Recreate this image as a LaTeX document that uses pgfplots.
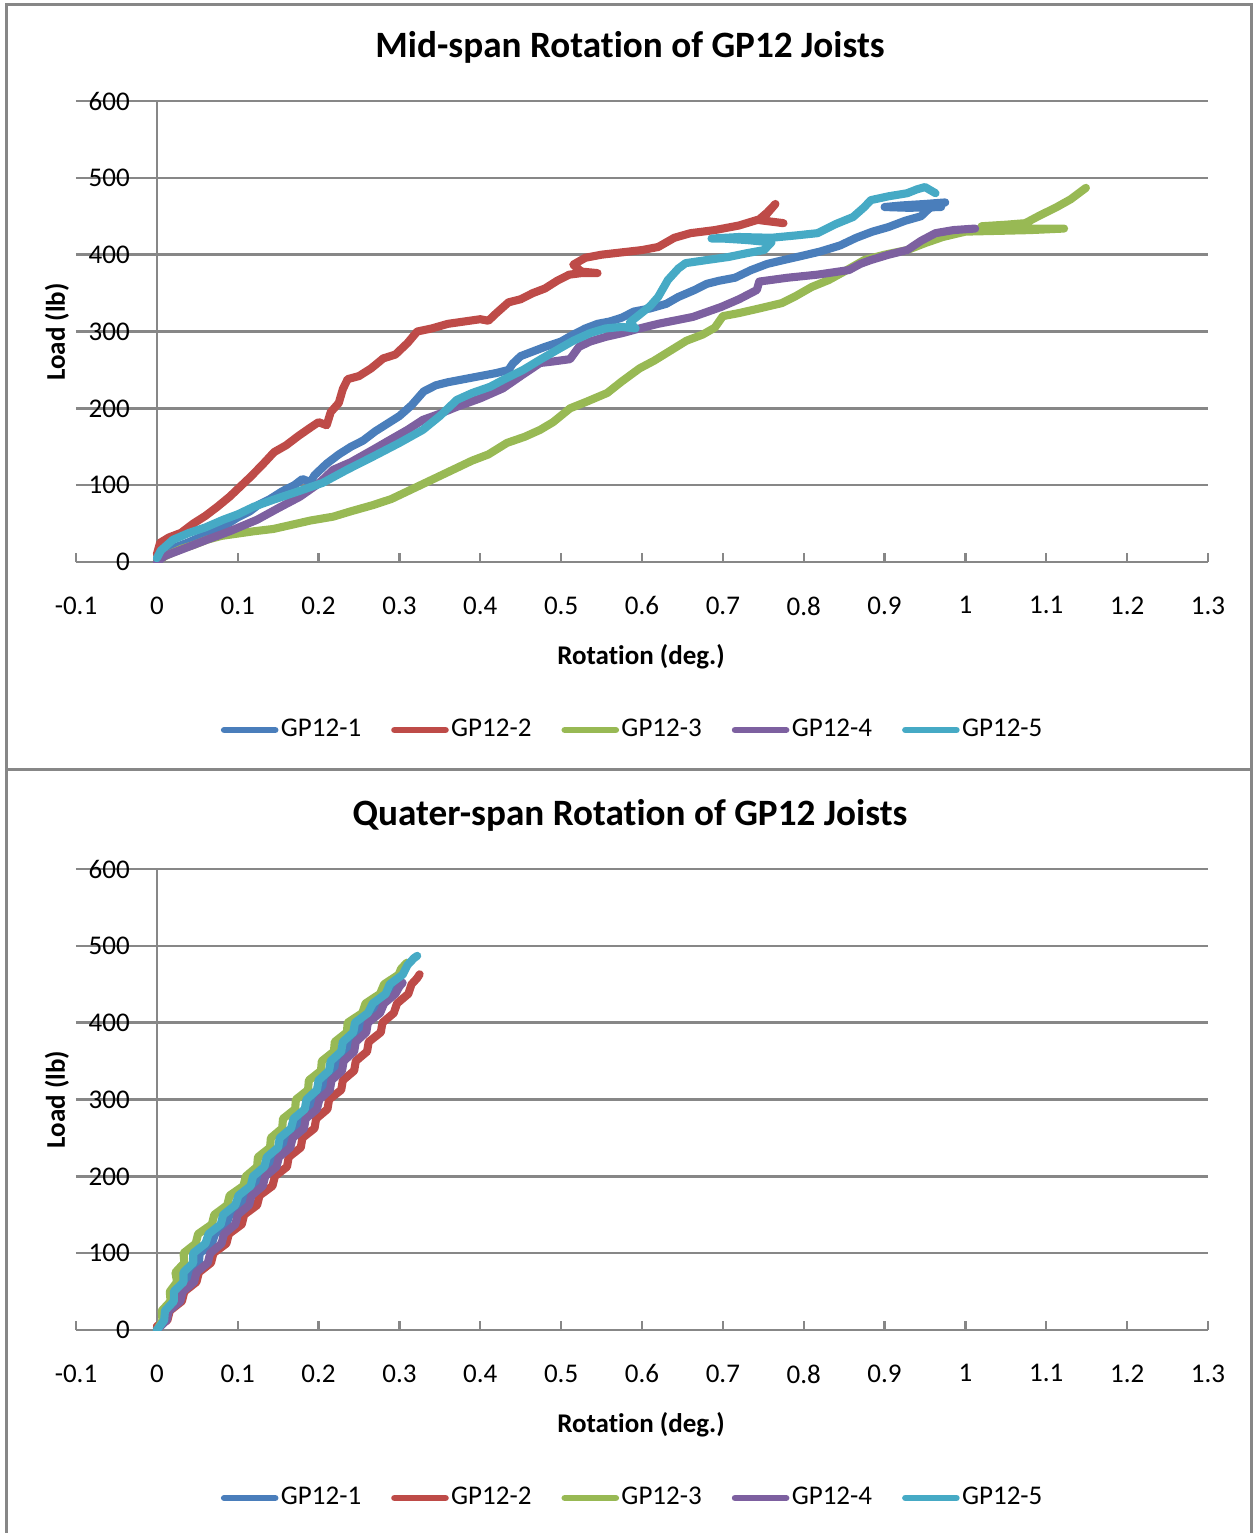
\documentclass[border=0pt]{standalone}
\usepackage{fontspec}
\setmainfont[Ligatures=NoCommon]{Carlito}
\usepackage{pgfplots}
\pgfplotsset{compat=1.18}

\definecolor{gpA}{HTML}{4A7EBB}
\definecolor{gpB}{HTML}{BE4B48}
\definecolor{gpC}{HTML}{98B954}
\definecolor{gpD}{HTML}{7D60A0}
\definecolor{gpE}{HTML}{46AAC5}
\definecolor{rule}{HTML}{878787}

\pgfplotsset{
  joist/.style={
    scale only axis, width=377.333pt, height=153.667pt,
    xmin=-0.1, xmax=1.3, ymin=0, ymax=600,
    axis x line=middle, axis y line=middle,
    axis line style={rule, line width=0.8pt, -},
    xtick={-0.1,0,0.1,0.2,0.3,0.4,0.5,0.6,0.7,0.8,0.9,1,1.1,1.2,1.3},
    xticklabels={-0.1,0,0.1,0.2,0.3,0.4,0.5,0.6,0.7,0.8,0.9,1,1.1,1.2,1.3},
    ytick={0,100,200,300,400,500,600},
    hide obscured x ticks=false, hide obscured y ticks=false,
    ymajorgrids, grid style={rule, line width=0.8pt},
    xtick align=inside, major tick length=3pt,
    xtick style={rule, line width=0.8pt}, ytick style={draw=none},
    tick label style={font=\fontsize{9}{10}\selectfont},
    /pgf/number format/assume math mode=true,
    xticklabel style={yshift=-8pt},
    yticklabel style={xshift=-4pt},
    legend columns=5,
    legend style={at={(0.4935,-0.3644)}, anchor=center, draw=none, fill=none,
      font=\fontsize{9}{10}\selectfont,
      /tikz/every odd column/.append style={column sep=-1.2pt},
      /tikz/every even column/.append style={column sep=8pt}},
    legend image code/.code={\draw[#1, line width=2.2pt, line cap=round] (0pt,0pt) -- (17pt,0pt);},
    every axis plot/.append style={line width=2.7pt, line join=round, line cap=round, mark=none},
  }
}

\begin{document}
\begin{tikzpicture}
\useasboundingbox (0,0) rectangle (418.333pt,-511pt);
\draw[rule, line width=1pt] (2pt,-1.4pt) rectangle (417.3pt,-256.5pt);
\draw[rule, line width=1pt] (2pt,-256.5pt) rectangle (417.3pt,-520pt);

% ---------- mid-span rotation ----------
\begin{axis}[joist, at={(25.333pt,-187.333pt)}, anchor=south west]
\addplot[gpA] coordinates {
(0,0) (0.004,8) (0.012,14) (0.025,20) (0.04,26) (0.055,33) (0.07,42) (0.085,48)
(0.10,58) (0.115,66) (0.125,74) (0.14,82) (0.155,92) (0.17,100) (0.18,108) (0.19,104)
(0.195,113) (0.21,128) (0.225,140) (0.24,150) (0.255,158) (0.27,170) (0.285,180)
(0.30,190) (0.315,204) (0.33,222) (0.345,230) (0.36,234) (0.38,238) (0.40,242)
(0.42,246) (0.435,250) (0.44,258) (0.45,268) (0.465,274) (0.48,280) (0.50,287)
(0.515,296) (0.53,304) (0.545,310) (0.56,313) (0.575,318) (0.59,326) (0.61,330)
(0.63,336) (0.645,345) (0.665,354) (0.68,362) (0.695,366) (0.715,370) (0.735,380)
(0.755,388) (0.775,393) (0.80,399) (0.82,404) (0.845,412) (0.865,422) (0.885,430)
(0.905,436) (0.925,444) (0.945,450) (0.955,460) (0.965,465) (0.975,468) (0.95,466)
(0.92,464) (0.90,462) (0.93,461) (0.97,462)
};
\addplot[gpB] coordinates {
(0,10) (0.004,25) (0.015,32) (0.03,38) (0.045,50) (0.06,60) (0.075,72) (0.09,85)
(0.10,95) (0.115,110) (0.13,126) (0.145,143) (0.16,152) (0.175,164) (0.19,175)
(0.20,182) (0.21,178) (0.215,195) (0.225,207) (0.23,225) (0.236,238) (0.25,242)
(0.265,252) (0.28,265) (0.295,270) (0.31,285) (0.322,300) (0.34,304) (0.36,310)
(0.38,313) (0.40,316) (0.41,314) (0.42,324) (0.435,338) (0.45,342) (0.465,350)
(0.48,356) (0.495,366) (0.51,374) (0.525,376) (0.545,376) (0.525,378) (0.515,387)
(0.53,396) (0.55,400) (0.575,403) (0.60,406) (0.62,410) (0.64,422) (0.66,428)
(0.69,432) (0.72,438) (0.745,446) (0.755,455) (0.765,466) (0.752,450) (0.745,445)
(0.76,443) (0.775,441)
};
\addplot[gpC] coordinates {
(0,2) (0.015,10) (0.03,17) (0.045,22) (0.062,29) (0.08,34) (0.10,37) (0.12,40)
(0.144,43) (0.165,48) (0.19,54) (0.218,59) (0.24,66) (0.267,74) (0.29,82) (0.31,92)
(0.33,102) (0.35,112) (0.37,122) (0.39,132) (0.41,140) (0.433,155) (0.455,163)
(0.474,172) (0.49,182) (0.511,200) (0.53,208) (0.557,220) (0.575,235) (0.597,252)
(0.615,262) (0.635,275) (0.655,288) (0.675,296) (0.69,305) (0.70,320) (0.72,324)
(0.745,330) (0.773,337) (0.79,346) (0.81,358) (0.831,367) (0.85,378) (0.875,393)
(0.90,400) (0.928,406) (0.95,415) (0.972,423) (1.0,430) (1.04,431) (1.08,432)
(1.122,434) (1.08,434) (1.04,435) (1.02,437) (1.05,439) (1.074,441) (1.09,450)
(1.113,462) (1.13,472) (1.149,487)
};
\addplot[gpD] coordinates {
(0,0) (0.01,8) (0.03,16) (0.062,29) (0.09,40) (0.124,55) (0.15,70) (0.177,85)
(0.20,102) (0.218,120) (0.24,130) (0.267,146) (0.29,160) (0.31,172) (0.329,185)
(0.35,193) (0.371,202) (0.40,213) (0.428,226) (0.45,242) (0.474,259) (0.49,261)
(0.511,264) (0.522,280) (0.536,287) (0.555,293) (0.576,298) (0.597,304) (0.62,310)
(0.663,319) (0.698,332) (0.72,342) (0.742,354) (0.745,365) (0.78,370) (0.817,374)
(0.856,380) (0.87,388) (0.883,393) (0.905,400) (0.928,406) (0.945,418) (0.963,428)
(0.985,432) (1.012,434)
};
\addplot[gpE] coordinates {
(0,5) (0.005,15) (0.02,29) (0.04,38) (0.06,45) (0.082,55) (0.10,62) (0.12,72)
(0.144,81) (0.175,92) (0.205,103) (0.235,120) (0.267,137) (0.30,155) (0.329,172)
(0.35,190) (0.371,211) (0.39,220) (0.412,228) (0.43,238) (0.453,250) (0.475,264)
(0.495,276) (0.515,288) (0.536,298) (0.555,304) (0.575,306) (0.592,304) (0.585,312)
(0.597,322) (0.61,333) (0.62,345) (0.632,367) (0.645,382) (0.654,389) (0.68,393)
(0.707,397) (0.73,402) (0.751,406) (0.76,416) (0.73,419) (0.70,421) (0.686,421)
(0.72,423) (0.76,422) (0.79,425) (0.817,428) (0.84,440) (0.861,449) (0.875,462)
(0.883,471) (0.905,476) (0.928,480) (0.94,485) (0.95,488) (0.963,480)
};
\legend{GP12-1,GP12-2,GP12-3,GP12-4,GP12-5}
\end{axis}
\node[font=\bfseries\fontsize{12.4}{14}\selectfont] at (210pt,-15.67pt) {Mid-span Rotation of GP12 Joists};
\node[font=\bfseries\fontsize{9}{10}\selectfont] at (213.67pt,-219pt) {Rotation (deg.)};
\node[font=\bfseries\fontsize{9}{10}\selectfont, rotate=90] at (19pt,-110.67pt) {Load (lb)};

% ---------- quarter-span rotation ----------
\begin{axis}[joist, at={(25.333pt,-443.333pt)}, anchor=south west]
\addplot[gpA] coordinates {
(0,3) (0.010,12.5) (0.012,25) (0.024,37.5) (0.026,50) (0.038,62.5) (0.040,75)
(0.052,87.5) (0.053,100) (0.068,112.5) (0.072,125) (0.086,137.5) (0.090,150)
(0.104,162.5) (0.108,175) (0.123,187.5) (0.126,200) (0.140,212.5) (0.143,225)
(0.157,237.5) (0.160,250) (0.174,262.5) (0.177,275) (0.190,287.5) (0.193,300)
(0.206,312.5) (0.208,325) (0.221,337.5) (0.223,350) (0.236,362.5) (0.238,375)
(0.251,387.5) (0.253,400) (0.269,412.5) (0.274,425) (0.289,437.5) (0.294,450) (0.3,456)
};
\addplot[gpB] coordinates {
(0,5) (0.013,12.5) (0.016,25) (0.031,37.5) (0.034,50) (0.049,62.5) (0.052,75)
(0.067,87.5) (0.070,100) (0.086,112.5) (0.089,125) (0.105,137.5) (0.108,150)
(0.124,162.5) (0.127,175) (0.143,187.5) (0.146,200) (0.161,212.5) (0.163,225)
(0.178,237.5) (0.180,250) (0.195,262.5) (0.197,275) (0.211,287.5) (0.213,300)
(0.228,312.5) (0.230,325) (0.244,337.5) (0.246,350) (0.260,362.5) (0.262,375)
(0.277,387.5) (0.279,400) (0.293,412.5) (0.297,425) (0.311,437.5) (0.315,450)
(0.322,458) (0.325,463)
};
\addplot[gpC] coordinates {
(0,0) (0.007,12.5) (0.006,25) (0.017,37.5) (0.016,50) (0.025,62.5) (0.023,75)
(0.034,87.5) (0.033,100) (0.048,112.5) (0.051,125) (0.068,137.5) (0.071,150)
(0.087,162.5) (0.090,175) (0.107,187.5) (0.110,200) (0.124,212.5) (0.125,225)
(0.140,237.5) (0.141,250) (0.155,262.5) (0.156,275) (0.171,287.5) (0.172,300)
(0.187,312.5) (0.188,325) (0.203,337.5) (0.204,350) (0.219,362.5) (0.220,375)
(0.235,387.5) (0.236,400) (0.254,412.5) (0.258,425) (0.276,437.5) (0.281,450)
(0.299,462.5) (0.302,470) (0.309,478)
};
\addplot[gpD] coordinates {
(0,0) (0.012,12.5) (0.015,25) (0.029,37.5) (0.032,50) (0.046,62.5) (0.049,75)
(0.063,87.5) (0.066,100) (0.080,112.5) (0.083,125) (0.097,137.5) (0.100,150)
(0.114,162.5) (0.117,175) (0.131,187.5) (0.134,200) (0.148,212.5) (0.151,225)
(0.165,237.5) (0.168,250) (0.182,262.5) (0.184,275) (0.198,287.5) (0.201,300)
(0.214,312.5) (0.216,325) (0.229,337.5) (0.231,350) (0.244,362.5) (0.246,375)
(0.259,387.5) (0.261,400) (0.276,412.5) (0.281,425) (0.295,437.5) (0.300,447) (0.304,452)
};
\addplot[gpE] coordinates {
(0,0) (0.009,12.5) (0.010,25) (0.021,37.5) (0.021,50) (0.033,62.5) (0.033,75)
(0.045,87.5) (0.045,100) (0.060,112.5) (0.064,125) (0.079,137.5) (0.082,150)
(0.097,162.5) (0.101,175) (0.116,187.5) (0.119,200) (0.133,212.5) (0.136,225)
(0.150,237.5) (0.152,250) (0.166,262.5) (0.169,275) (0.183,287.5) (0.185,300)
(0.198,312.5) (0.200,325) (0.213,337.5) (0.215,350) (0.228,362.5) (0.230,375)
(0.243,387.5) (0.245,400) (0.261,412.5) (0.267,425) (0.283,437.5) (0.288,450)
(0.304,462.5) (0.310,475) (0.318,484) (0.322,487)
};
\legend{GP12-1,GP12-2,GP12-3,GP12-4,GP12-5}
\end{axis}
\node[font=\bfseries\fontsize{12.4}{14}\selectfont] at (210pt,-271.67pt) {Quater-span Rotation of GP12 Joists};
\node[font=\bfseries\fontsize{9}{10}\selectfont] at (213.67pt,-475pt) {Rotation (deg.)};
\node[font=\bfseries\fontsize{9}{10}\selectfont, rotate=90] at (19pt,-366.5pt) {Load (lb)};
\end{tikzpicture}
\end{document}
